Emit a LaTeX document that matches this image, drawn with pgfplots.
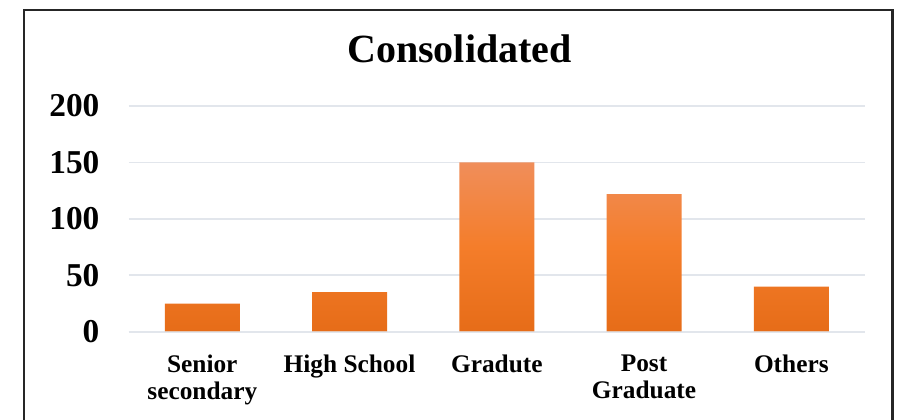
\documentclass[border=0pt]{standalone}
\usepackage{pgfplots}
\pgfplotsset{compat=1.18}
\usepackage{fontspec}
\setmainfont{Liberation Serif}
\definecolor{gridc}{RGB}{226,230,236}
\definecolor{bartop}{RGB}{240,142,90}
\definecolor{barmid}{RGB}{244,125,42}
\definecolor{barbot}{RGB}{230,108,24}
\begin{document}
\begin{tikzpicture}
\useasboundingbox (0,0) rectangle (678.75pt,315pt);
\draw[black!85, line width=1.8pt] (18pt,-2pt) -- (18pt,307.5pt) -- (669.4pt,307.5pt) -- (669.4pt,-2pt);
\node[anchor=base, font=\fontsize{30}{36}\selectfont\bfseries, inner sep=0pt] at (344.6pt,268.3pt) {Consolidated};
\begin{axis}[
 at={(96.5pt,66.2pt)}, anchor=south west,
 scale only axis, width=552.2pt, height=169.3pt,
 xmin=-0.5, xmax=4.5, ymin=0, ymax=200,
 ytick={0,50,100,150,200},
 xtick={0,1,2,3,4},
 xticklabels={{Senior\\secondary}, {High School}, {Gradute}, {Post\\Graduate}, {Others}},
 xticklabel style={align=center, font=\fontsize{19}{20.5}\selectfont\bfseries, anchor=north, inner sep=0pt, yshift=-17pt},
 yticklabel style={font=\fontsize{25}{30}\selectfont\bfseries, anchor=east, inner sep=0pt, xshift=-21.75pt},
 /pgf/number format/assume math mode=true,
 axis line style={draw=none},
 major tick length=0pt,
 ymajorgrids, grid style={gridc, line width=1.2pt},
 clip=false,
]
\addplot[ybar, bar width=56.25pt, draw=none, top color=bartop, bottom color=barbot, middle color=barmid] coordinates {(0,25) (1,35) (2,150) (3,122) (4,40)};
\addplot[sharp plot, no marks, draw=gridc, line width=1.5pt, opacity=0.6] coordinates {(-0.5,0) (4.5,0)};
\end{axis}
\end{tikzpicture}
\end{document}
